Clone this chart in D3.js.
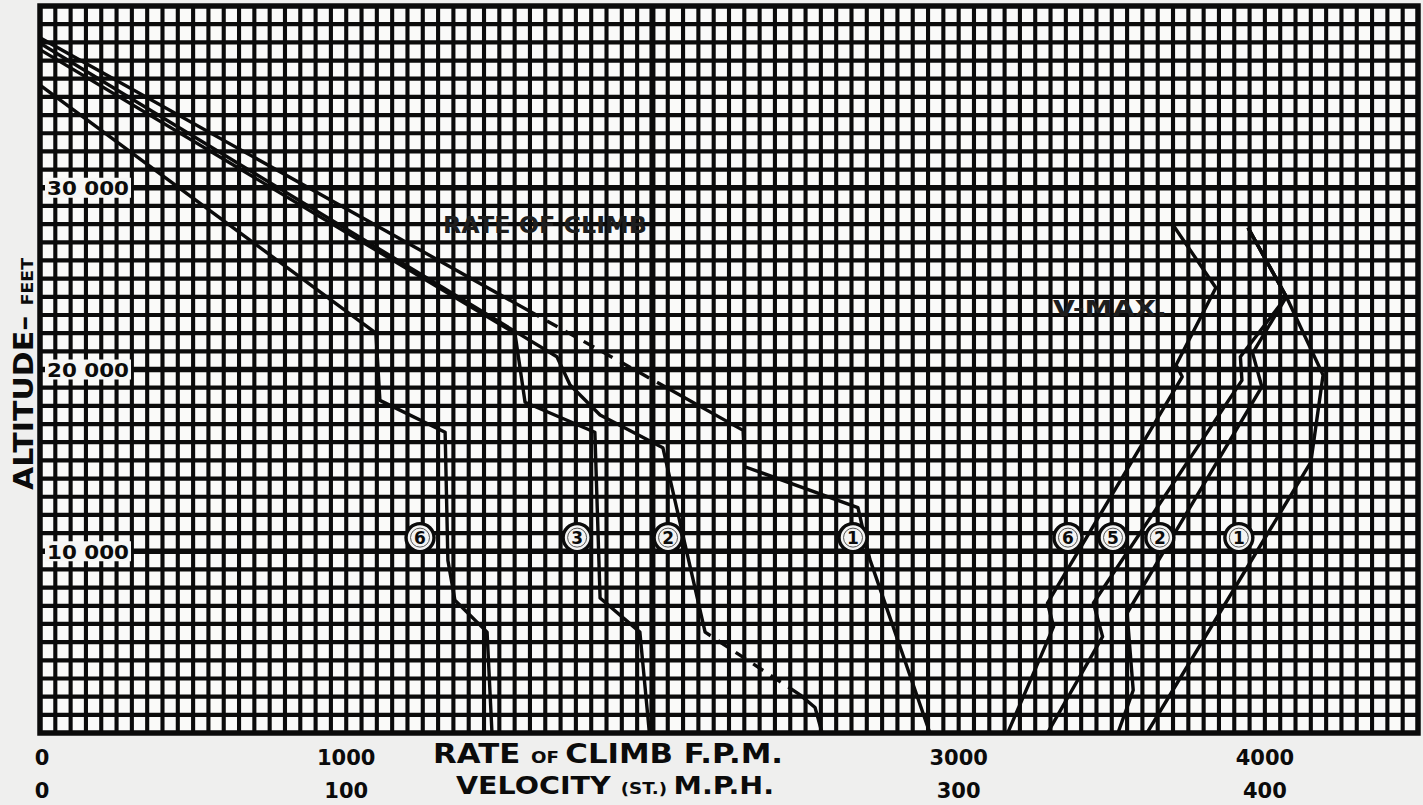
<!DOCTYPE html>
<html>
<head>
<meta charset="utf-8">
<script src="https://cdn.jsdelivr.net/npm/d3@7"></script>
<style>
  body { margin: 0; background: #efefee; }
  svg { display: block; }
</style>
</head>
<body>
<svg id="chart" width="1423" height="805"></svg>
<script>
// ---------------- DATA ----------------
// x axis: rate of climb (ft/min); velocity axis shares it at 1 mph = 10 ft/min
const xTickValues = [0, 1000, 3000, 4000];
const xTickLabelsFpm = ["0", "1000", "3000", "4000"];
const xTickLabelsMph = ["0", "100", "300", "400"];
const yTickValues = [10000, 20000, 30000];
const yTickLabels = ["10 000", "20 000", "30 000"];

// Rate of climb curves: [rate of climb (fpm), altitude (ft)]
const rocCurve6 = [[0, 35650], [1097, 22000], [1110, 18300], [1323, 16550], [1332, 9500], [1355, 7300], [1460, 5550], [1476, 0]];
const rocCurve3 = [[0, 37600], [1551, 22000], [1584, 18200], [1812, 16550], [1829, 7430], [1959, 5550], [1990, 0]];
const rocCurve2 = [[0, 37950], [1688, 20700], [1731, 19150], [1829, 17500], [2034, 15700], [2172, 5550], [2482, 2100], [2531, 1400], [2554, 0]];
const rocCurve1 = [[0, 38250], [2296, 16650], [2302, 14650], [2671, 12400], [2710, 9550], [2906, 0]];

// Maximum velocity curves: [velocity (mph), altitude (ft)]
const vmaxCurve6 = [[370, 27950], [384, 24500], [371, 20250], [373, 19600], [329, 7150], [331, 5850], [316, 0]];
const vmaxCurve3 = [[394.5, 27800], [407, 24000], [392, 20700], [392.5, 19400], [344, 7150], [347, 5300], [329, 0]];
const vmaxCurve2 = [[394.5, 27800], [407, 24000], [396, 20900], [399, 19050], [355, 6600], [357, 2350], [352, 0]];
const vmaxCurve1 = [[394.5, 27800], [407, 24000], [419, 19700], [415, 14900], [361.5, 0]];

// Circled curve numbers: [x value (fpm or mph), altitude]
const rocLabelNames = ["6", "3", "2", "1"];
const rocLabelX = [1241, 1754, 2051, 2655];
const vmaxLabelNames = ["6", "5", "2", "1"];
const vmaxLabelX = [335.7, 350.4, 365.7, 391.5];
const labelAltitude = 10750;

// ---------------- SCALES ----------------
const svg = d3.select("#chart");
const x = d3.scaleLinear().domain([0, 4500]).range([40, 1418]);
const xV = d3.scaleLinear().domain([0, 450]).range([40, 1418]);
const y = d3.scaleLinear().domain([0, 40000]).range([733, 6]);

const ink = "#0b0b0b";
const heavy = "DejaVu Sans";

// plot paper
svg.append("rect").attr("x", x(0)).attr("y", y(40000))
  .attr("width", x(4500) - x(0)).attr("height", y(0) - y(40000))
  .attr("fill", "#fafaf9");

// ---------------- GRID ----------------
const grid = svg.append("g");
const vLines = d3.range(50, 4500, 50);
grid.selectAll("line.v").data(vLines).join("line")
  .attr("x1", d => x(d)).attr("x2", d => x(d))
  .attr("y1", y(40000)).attr("y2", y(0))
  .attr("stroke", ink)
  .attr("stroke-width", d => d === 2000 ? 6 : 4.1);
const hLines = d3.range(1000, 40000, 1000);
grid.selectAll("line.h").data(hLines).join("line")
  .attr("y1", d => y(d)).attr("y2", d => y(d))
  .attr("x1", x(0)).attr("x2", x(4500))
  .attr("stroke", ink)
  .attr("stroke-width", d => d % 10000 === 0 ? 5.6 : 4.2);

// frame
svg.append("rect").attr("x", x(0)).attr("y", y(40000))
  .attr("width", x(4500) - x(0)).attr("height", y(0) - y(40000))
  .attr("fill", "none").attr("stroke", ink).attr("stroke-width", 5.5);

// ---------------- CURVES ----------------
svg.append("clipPath").attr("id", "plotclip")
  .append("rect").attr("x", x(0)).attr("y", y(40000))
  .attr("width", x(4500) - x(0)).attr("height", y(0) - y(40000));

const curves = svg.append("g").attr("clip-path", "url(#plotclip)");
const rocLine = d3.line().x(d => x(d[0])).y(d => y(d[1]));
const vLine = d3.line().x(d => xV(d[0])).y(d => y(d[1]));

// dash pattern: solid until a, dashed between a and b, solid afterwards (path lengths)
function dashPattern(a, b, total) {
  const arr = [a];            // even index = drawn, odd index = gap
  let pos = a, on = false;
  while (pos < b) {
    const seg = on ? 12 : 9;
    arr.push(seg);
    pos += seg;
    on = !on;
  }
  if (arr.length % 2 === 1) arr.push(0);   // make sure the next entry is a drawn one
  arr.push(total + 10);
  arr.push(0);
  return arr.join(",");
}
function lengthToX(path, px) {
  const total = path.getTotalLength();
  let lo = 0, hi = total;
  for (let i = 0; i < 40; i++) {
    const mid = (lo + hi) / 2;
    if (path.getPointAtLength(mid).x < px) lo = mid; else hi = mid;
  }
  return lo;
}

function drawCurve(d, lineGen, dashRange) {
  const p = curves.append("path").attr("d", lineGen(d))
    .attr("fill", "none").attr("stroke", ink).attr("stroke-width", 3.4)
    .attr("stroke-linejoin", "round");
  if (dashRange) {
    const node = p.node();
    const total = node.getTotalLength();
    const a = lengthToX(node, dashRange[0]);
    const b = lengthToX(node, dashRange[1]);
    p.attr("stroke-dasharray", dashPattern(a, b, total));
  }
}
drawCurve(rocCurve6, rocLine);
drawCurve(rocCurve3, rocLine);
drawCurve(rocCurve2, rocLine, [x(2190), x(2470)]);
drawCurve(rocCurve1, rocLine, [x(1630), x(2010)]);
drawCurve(vmaxCurve6, vLine);
drawCurve(vmaxCurve3, vLine);
drawCurve(vmaxCurve2, vLine);
drawCurve(vmaxCurve1, vLine);

// ---------------- CIRCLED NUMBERS ----------------
function circled(cx, cy, t) {
  const g = svg.append("g");
  g.append("circle").attr("cx", cx).attr("cy", cy).attr("r", 14)
    .attr("fill", "#f4f4f3").attr("stroke", ink).attr("stroke-width", 3.4);
  g.append("circle").attr("cx", cx).attr("cy", cy).attr("r", 9.5)
    .attr("fill", "none").attr("stroke", "#555").attr("stroke-width", 1);
  g.append("text").attr("x", cx).attr("y", cy + 6)
    .attr("text-anchor", "middle").attr("font-family", heavy)
    .attr("font-weight", "bold").attr("font-size", 17).attr("fill", ink).text(t);
}
rocLabelNames.forEach((n, i) => circled(x(rocLabelX[i]), y(labelAltitude), n));
vmaxLabelNames.forEach((n, i) => circled(xV(vmaxLabelX[i]), y(labelAltitude), n));

// ---------------- Y TICK LABELS (inside plot) ----------------
yTickValues.forEach((v, i) => {
  svg.append("rect").attr("x", 45).attr("y", y(v) - 10).attr("width", 86).attr("height", 20)
    .attr("fill", "#f6f6f5");
  svg.append("text").attr("x", 47).attr("y", y(v) + 7.5)
    .attr("font-family", heavy).attr("font-weight", "bold")
    .attr("font-size", 20).attr("fill", ink)
    .attr("textLength", 82).attr("lengthAdjust", "spacingAndGlyphs")
    .text(yTickLabels[i]);
});

// ---------------- X TICK LABELS ----------------
xTickValues.forEach((v, i) => {
  svg.append("text").attr("x", x(v) + (v === 0 ? 2 : 0)).attr("y", 765)
    .attr("text-anchor", "middle").attr("font-family", heavy).attr("font-weight", "bold")
    .attr("font-size", 21).attr("fill", ink).text(xTickLabelsFpm[i]);
  svg.append("text").attr("x", x(v) + (v === 0 ? 2 : 0)).attr("y", 798)
    .attr("text-anchor", "middle").attr("font-family", heavy).attr("font-weight", "bold")
    .attr("font-size", 21).attr("fill", ink).text(xTickLabelsMph[i]);
});

// axis titles
const t1 = svg.append("text").attr("x", 433).attr("y", 763)
  .attr("font-family", heavy).attr("font-weight", "bold").attr("fill", ink)
  .attr("textLength", 350).attr("lengthAdjust", "spacingAndGlyphs");
t1.append("tspan").attr("font-size", 27).text("RATE ");
t1.append("tspan").attr("font-size", 16).text("OF ");
t1.append("tspan").attr("font-size", 27).text("CLIMB  F.P.M.");

const t2 = svg.append("text").attr("x", 456).attr("y", 794)
  .attr("font-family", heavy).attr("font-weight", "bold").attr("fill", ink)
  .attr("textLength", 318).attr("lengthAdjust", "spacingAndGlyphs");
t2.append("tspan").attr("font-size", 25).text("VELOCITY ");
t2.append("tspan").attr("font-size", 16).text("(ST.) ");
t2.append("tspan").attr("font-size", 25).text("M.P.H.");

// y axis title
const yt = svg.append("text").attr("transform", "translate(33,490) rotate(-90)")
  .attr("font-family", heavy).attr("font-weight", "bold").attr("fill", ink)
  .attr("textLength", 232).attr("lengthAdjust", "spacingAndGlyphs");
yt.append("tspan").attr("font-size", 26).text("ALTITUDE\u2013  ");
yt.append("tspan").attr("font-size", 15).text("FEET");

// in-plot labels
svg.append("text").attr("x", 443).attr("y", 233)
  .attr("font-family", heavy).attr("font-weight", "bold").attr("font-size", 23)
  .attr("fill", "#1e1e1e").attr("textLength", 204).attr("lengthAdjust", "spacingAndGlyphs")
  .text("RATE OF CLIMB");
svg.append("text").attr("x", 1053).attr("y", 316)
  .attr("font-family", heavy).attr("font-weight", "bold").attr("font-size", 22)
  .attr("fill", "#1e1e1e").attr("textLength", 114).attr("lengthAdjust", "spacingAndGlyphs")
  .text("V-MAX.");
</script>
</body>
</html>
